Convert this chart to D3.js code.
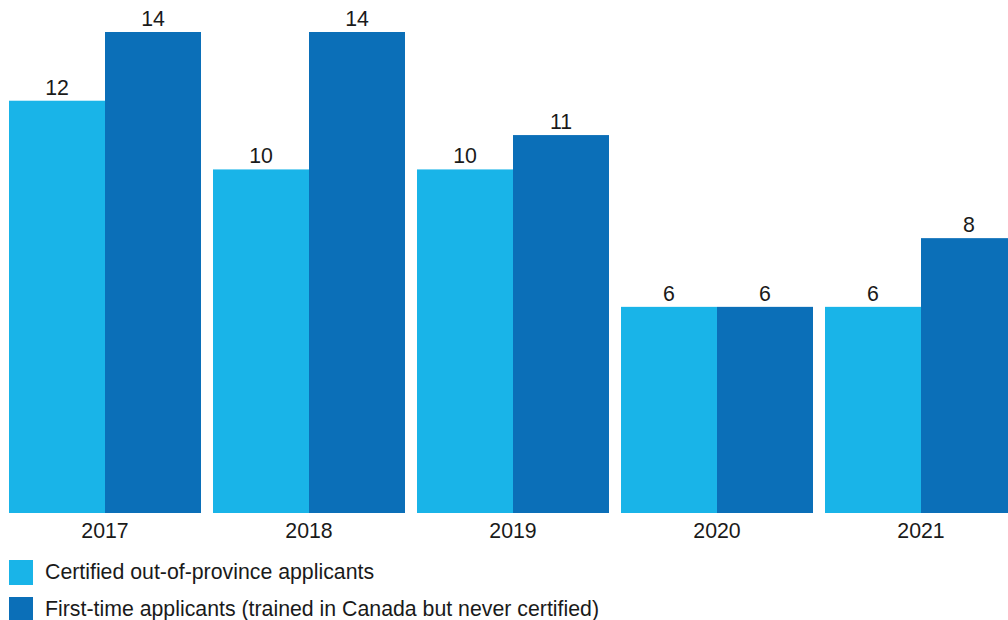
<!DOCTYPE html>
<html>
<head>
<meta charset="utf-8">
<script src="https://cdn.jsdelivr.net/npm/d3@7"></script>
<style>
  html, body { margin: 0; padding: 0; background: #fff; }
  svg { display: block; font-family: "Liberation Sans", Arial, sans-serif; }
</style>
</head>
<body>
<svg id="chart" width="1008" height="620"></svg>
<script>
// Applicant counts by year
const years = ["2017", "2018", "2019", "2020", "2021"];
const seriesNames = [
  "Certified out-of-province applicants",
  "First-time applicants (trained in Canada but never certified)"
];
const outOfProvince = [12, 10, 10, 6, 6];
const firstTime = [14, 14, 11, 6, 8];
const colors = ["#19b4e8", "#0b6fb8"];

const svg = d3.select("#chart");
const baseline = 513;
const plotTop = 32;
const fontSize = 21.3;

const pad = 12 / 204;
const x = d3.scaleBand()
  .domain(years)
  .range([3, 1023])
  .paddingInner(pad)
  .paddingOuter(pad / 2);

const xSub = d3.scaleBand()
  .domain([0, 1])
  .range([0, x.bandwidth()]);

const y = d3.scaleLinear()
  .domain([0, 14])
  .range([baseline, plotTop]);

const series = [outOfProvince, firstTime];

const groups = svg.selectAll("g.year")
  .data(years)
  .join("g")
  .attr("class", "year")
  .attr("transform", d => `translate(${x(d)},0)`);

groups.each(function(yr, i) {
  const g = d3.select(this);
  series.forEach((vals, s) => {
    const v = vals[i];
    g.append("rect")
      .attr("x", xSub(s))
      .attr("y", y(v))
      .attr("width", xSub.bandwidth())
      .attr("height", baseline - y(v))
      .attr("fill", colors[s]);
    g.append("text")
      .attr("x", xSub(s) + xSub.bandwidth() / 2)
      .attr("y", y(v) - 6)
      .attr("text-anchor", "middle")
      .attr("font-size", fontSize)
      .attr("fill", "#1a1a1a")
      .text(v);
  });
});

// Category axis labels
const xAxis = d3.axisBottom(x).tickSize(0).tickPadding(0);
const axisG = svg.append("g")
  .attr("transform", `translate(0,${baseline})`)
  .call(xAxis);
axisG.select(".domain").remove();
axisG.selectAll("text")
  .attr("font-size", fontSize)
  .attr("font-family", "Liberation Sans, Arial, sans-serif")
  .attr("fill", "#1a1a1a")
  .attr("dy", null)
  .attr("y", 25);

// Legend
const legend = svg.append("g");
seriesNames.forEach((name, s) => {
  const ly = 560 + s * 37;
  legend.append("rect")
    .attr("x", 9).attr("y", ly)
    .attr("width", 24).attr("height", 25)
    .attr("fill", colors[s]);
  legend.append("text")
    .attr("x", 45).attr("y", ly + 19)
    .attr("font-size", fontSize)
    .attr("fill", "#1a1a1a")
    .text(name);
});
</script>
</body>
</html>
